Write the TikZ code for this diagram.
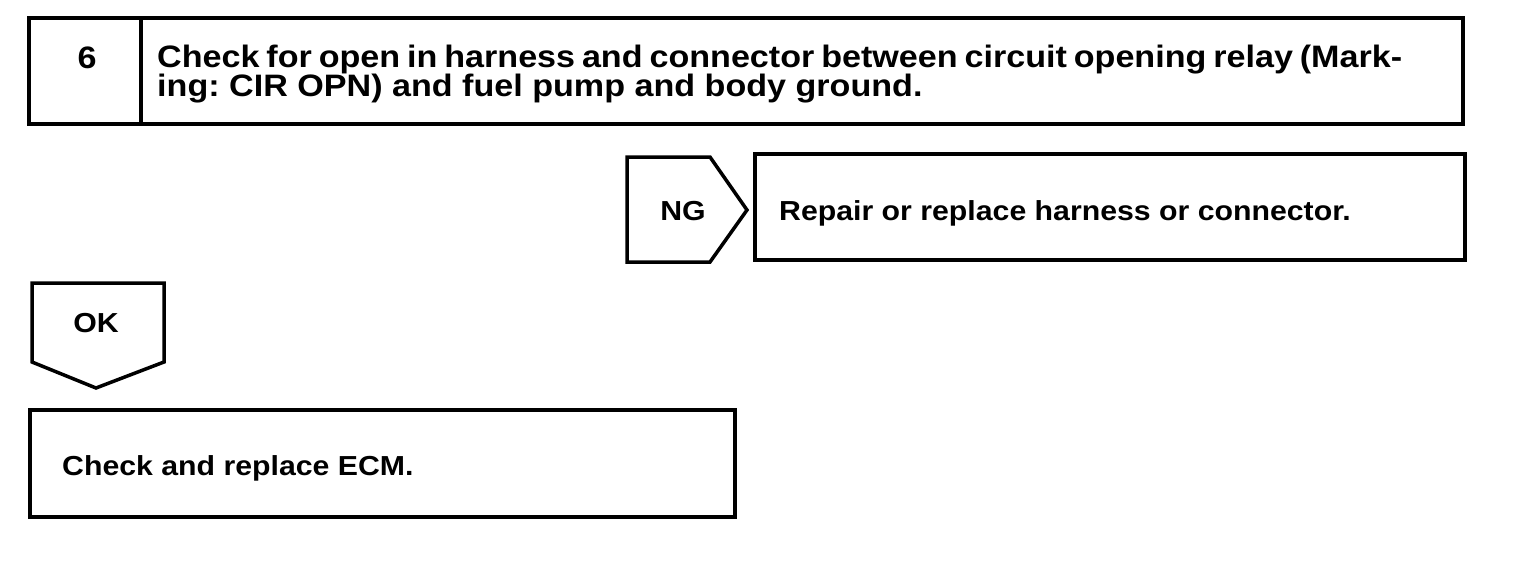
\documentclass[tikz,border=0pt]{standalone}
\usepackage{fontspec}
\setmainfont{Liberation Sans}[FakeStretch=1.1]
\frenchspacing
\begin{document}
\begin{tikzpicture}[x=1pt,y=-1pt,
  frame/.style={draw=black,line width=3.5pt,line join=miter},
  bigtxt/.style={font=\bfseries\fontsize{31}{28}\selectfont,inner sep=0pt},
  txt/.style={font=\bfseries\fontsize{27.5}{28}\selectfont,inner sep=0pt}]
\useasboundingbox (0,0) rectangle (1520,566);
% step 6 box
\draw[frame] (29,18) rectangle (1463,124);
\draw[frame] (141,18) -- (141,124);
\node[bigtxt] (num) at (87,58) {6};
\node[bigtxt,anchor=base west] (l1) at (157,67)
  {\makebox[1245pt][s]{Check for open in harness and connector between circuit opening relay (Mark-}};
\node[bigtxt,anchor=base west] (l2) at (157,96)
  {ing: CIR OPN) and fuel pump and body ground.};
% NG
\draw[frame] (627,157) -- (710,157) -- (747,210) -- (710,262) -- (627,262) -- cycle;
\node[txt] (ng) at (683,211) {NG};
\draw[frame] (755,154) rectangle (1465,260);
\node[txt,anchor=base west] (rep) at (779,220) {Repair or replace harness or connector.};
% OK
\draw[frame] (32,283) -- (164,283) -- (164,362) -- (96,388) -- (32,362) -- cycle;
\node[txt] (ok) at (96,323) {OK};
% ECM
\draw[frame] (30,410) rectangle (735,517);
\node[txt,anchor=base west] (ecm) at (62,475) {Check and replace ECM.};
\end{tikzpicture}
\end{document}
